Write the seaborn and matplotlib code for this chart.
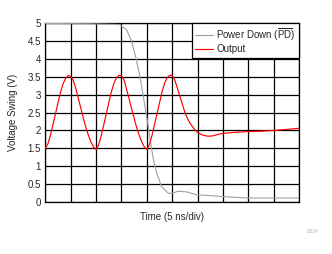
import matplotlib
matplotlib.use("Agg")
import matplotlib.pyplot as plt
import seaborn as sns
import pandas as pd

# Power Down (PD) signal: time (ns), voltage (V)
pd_time_ns = [0.0, 8.5, 14.5, 15.0, 16.0, 16.9, 17.7, 18.65, 19.3, 20.0, 20.65,
              21.3, 21.95, 22.9, 24.25, 24.9, 26.2, 27.85, 29.75, 32.2, 34.9,
              39.8, 50.0]
pd_volt = [4.98, 4.97, 4.95, 4.91, 4.80, 4.52, 4.10, 3.50, 2.94, 2.35, 1.73,
           1.18, 0.80, 0.43, 0.25, 0.25, 0.31, 0.29, 0.21, 0.19, 0.16,
           0.12, 0.12]

# Output signal: time (ns), voltage (V)
out_time_ns = [0.0, 0.5, 1.0, 1.5, 2.0, 2.5, 3.0, 3.5, 4.0, 4.5,
               5.0, 5.5, 6.0, 6.5, 7.0, 7.5, 8.0, 8.5, 9.0, 9.5,
               10.0, 10.5, 11.0, 11.5, 12.0, 12.5, 13.0, 13.5, 14.0, 14.5,
               15.0, 15.5, 16.0, 16.5, 17.0, 17.5, 18.0, 18.5, 19.0, 19.5,
               20.0, 20.5, 21.0, 21.5, 22.0, 22.5, 23.0, 23.5, 24.0, 24.5,
               25.0, 25.5, 26.0, 26.5, 27.0, 27.5, 28.0, 28.5, 29.0, 29.5,
               30.0, 30.5, 31.0, 32.0, 33.0, 34.0, 35.0, 37.5, 40.0, 42.5,
               45.0, 47.5, 50.0]
out_volt = [1.50, 1.62, 1.86, 2.16, 2.46, 2.77, 3.06, 3.30, 3.45, 3.53,
            3.51, 3.40, 3.17, 2.90, 2.62, 2.34, 2.08, 1.86, 1.68, 1.54,
            1.47, 1.60, 1.85, 2.15, 2.46, 2.77, 3.07, 3.31, 3.46, 3.54,
            3.52, 3.41, 3.15, 2.88, 2.60, 2.33, 2.08, 1.86, 1.68, 1.54,
            1.47, 1.61, 1.86, 2.16, 2.47, 2.78, 3.08, 3.32, 3.47, 3.54,
            3.52, 3.40, 3.18, 2.95, 2.72, 2.50, 2.33, 2.20, 2.10, 2.01,
            1.94, 1.90, 1.87, 1.84, 1.85, 1.89, 1.92, 1.95, 1.97, 1.98,
            2.00, 2.03, 2.06]

y_ticks = [0, 0.5, 1, 1.5, 2, 2.5, 3, 3.5, 4, 4.5, 5]
y_tick_labels = ["0", "0.5", "1", "1.5", "2", "2.5", "3", "3.5", "4", "4.5", "5"]
x_ticks_ns = [0, 5, 10, 15, 20, 25, 30, 35, 40, 45, 50]

sns.set_style("white")
plt.rcParams['font.family'] = ['Liberation Sans', 'DejaVu Sans']
plt.rcParams['mathtext.fontset'] = 'custom'
plt.rcParams['mathtext.rm'] = 'Liberation Sans'

fig = plt.figure(figsize=(3.32, 2.54), dpi=100)
ax = fig.add_axes([0.1364, 0.2035, 0.9015 - 0.1364, 0.9106 - 0.2035])

df_pd = pd.DataFrame({"t": pd_time_ns, "v": pd_volt})
df_out = pd.DataFrame({"t": out_time_ns, "v": out_volt})

sns.lineplot(data=df_pd, x="t", y="v", ax=ax, color="#a0a0a0", linewidth=0.8,
             label=r"Power Down ($\overline{\mathrm{PD}}$)", zorder=3)
sns.lineplot(data=df_out, x="t", y="v", ax=ax, color="#ff0000", linewidth=0.85,
             label="Output", zorder=4)

ax.set_xlim(0, 50)
ax.set_ylim(0, 5)
ax.set_xticks(x_ticks_ns)
ax.set_xticklabels([])
ax.set_yticks(y_ticks)
ax.set_yticklabels(y_tick_labels, fontsize=7)
ax.tick_params(axis="both", length=0, pad=3)
ax.grid(True, color="black", linewidth=0.9)
ax.set_axisbelow(True)
for s in ax.spines.values():
    s.set_color("black")
    s.set_linewidth(0.9)

ax.set_xlabel("Time (5 ns/div)", fontsize=7, labelpad=4)
ax.set_ylabel("Voltage Swing (V)", fontsize=7, labelpad=7)

leg = ax.legend(loc="upper right", bbox_to_anchor=(1, 1), borderaxespad=0,
                frameon=True, fancybox=False, edgecolor="black", framealpha=1,
                fontsize=7, handlelength=1.8, handletextpad=0.4,
                borderpad=0.35, labelspacing=0.2)
leg.get_frame().set_linewidth(0.9)
leg.set_zorder(10)

fig.text(0.958, 0.087, "D024", fontsize=3.5, color="#b0b0c0", ha="right", va="center")

fig.savefig("out.png", dpi=100)
